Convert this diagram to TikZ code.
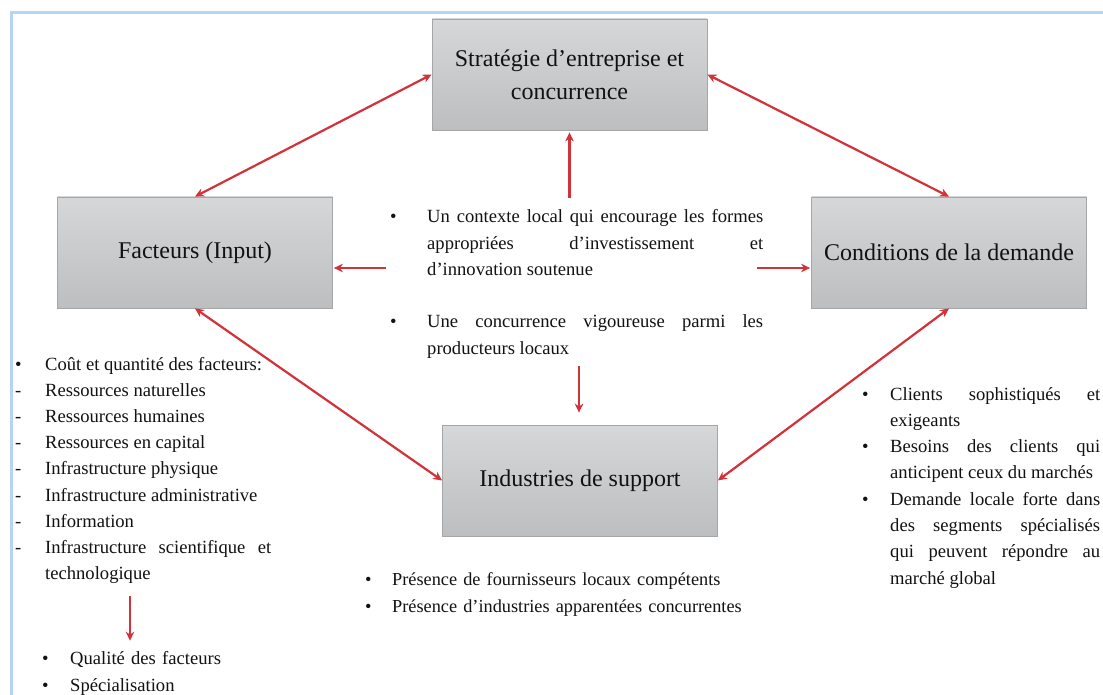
\documentclass[tikz,border=0pt]{standalone}
\usepackage{fontspec}
\setmainfont{Liberation Serif}
\usetikzlibrary{arrows.meta}
\definecolor{arrowred}{RGB}{210,50,58}
\definecolor{frameblue}{RGB}{180,212,252}
\definecolor{boxtop}{RGB}{213,215,217}
\definecolor{boxbot}{RGB}{189,190,192}
\definecolor{boxline}{RGB}{165,166,168}
\definecolor{txt}{RGB}{18,18,18}
\hyphenpenalty=10000
\exhyphenpenalty=10000
\hbadness=10000
\tolerance=10000
\newcommand{\bul}[1]{\leavevmode\llap{\makebox[#1][l]{•}}}
\newcommand{\dsh}[1]{\leavevmode\llap{\makebox[#1][l]{-}}}
\begin{document}
\begin{tikzpicture}[x=1pt,y=-1pt,
  box/.style={draw=boxline, line width=0.8pt, top color=boxtop, bottom color=boxbot,
    minimum width=275pt, minimum height=111pt, inner sep=0pt, align=center,
    font=\fontsize{24}{33}\selectfont, text=txt},
  link/.style={draw=arrowred, line width=2.2pt, {Stealth[length=9pt,width=8.5pt]}-{Stealth[length=9pt,width=8.5pt]}},
  oneway/.style={draw=arrowred, line width=2.2pt, -{Stealth[length=9pt,width=8.5pt]}},
  list/.style={anchor=base west, inner sep=0pt, align=justify, text=txt,
    font=\fontsize{18.6}{26.2}\selectfont},
]
\useasboundingbox (0,0) rectangle (1103,695);
\clip (0,0) rectangle (1103,695);
\fill[white] (0,0) rectangle (1103,695);
\draw[frameblue, line width=2.5pt] (11.5,720) -- (11.5,12.5) -- (1130,12.5);

\node[box] (strat) at (569.5,74.5) {Stratégie d’entreprise et\\concurrence};
\node[box] (fact) at (195,252.5) {Facteurs (Input)};
\node[box] (dem) at (949,252.5) {Conditions de la demande};
\node[box] (ind) at (580,480.5) {Industries de support};

\draw[link] (fact.north) -- (strat.west);
\draw[link] (strat.east) -- (dem.north);
\draw[link] (fact.south) -- (ind.west);
\draw[link] (dem.south) -- (ind.east);

\node[list, text width=336pt] (ctx) at (427,223) {\bul{37pt}Un contexte local qui encourage les formes\linebreak
appropriées d’investissement et\linebreak
d’innovation soutenue\par\vspace{26.2pt}
\bul{37pt}Une concurrence vigoureuse parmi les\linebreak
producteurs locaux};

\coordinate (up0) at (569.5,198);
\draw[oneway, shorten >=2pt] (up0) -- (strat.south);
\coordinate (lf0) at (386,268);
\draw[oneway, shorten >=1pt] (lf0) -- (lf0 -| fact.east);
\coordinate (rt0) at (757,268);
\draw[oneway, shorten >=1pt] (rt0) -- (rt0 -| dem.west);
\coordinate (dn0) at (579,366);
\draw[oneway, shorten >=12pt] (dn0) -- (dn0 |- ind.north);

\node[list, text width=226pt] (cost) at (45,370) {\bul{30pt}Coût et quantité des facteurs:\par
\dsh{30pt}Ressources naturelles\par
\dsh{30pt}Ressources humaines\par
\dsh{30pt}Ressources en capital\par
\dsh{30pt}Infrastructure physique\par
\dsh{30pt}Infrastructure administrative\par
\dsh{30pt}Information\par
\dsh{30pt}Infrastructure scientifique et\linebreak
technologique};

\node[list, text width=200pt, align=left, font=\fontsize{18.6}{27}\selectfont] (qual) at (70,664) {\bul{28pt}Qualité des facteurs\\
\bul{28pt}Spécialisation};

\coordinate (q0) at (130,596);
\draw[oneway, shorten >=10pt] (q0) -- (q0 |- qual.north);

\node[list, text width=390pt, align=left, font=\fontsize{18.3}{27}\selectfont] (supp) at (392,585) {\bul{27pt}Présence de fournisseurs locaux compétents\\
\bul{27pt}Présence d’industries apparentées concurrentes};

\node[list, text width=210pt, font=\fontsize{18.6}{26.3}\selectfont] (cli) at (890,400) {\bul{28pt}Clients sophistiqués et\linebreak
exigeants\par
\bul{28pt}Besoins des clients qui\linebreak
anticipent ceux du marchés\par
\bul{28pt}Demande locale forte dans\linebreak
des segments spécialisés\linebreak
qui peuvent répondre au\linebreak
marché global};
\end{tikzpicture}
\end{document}
